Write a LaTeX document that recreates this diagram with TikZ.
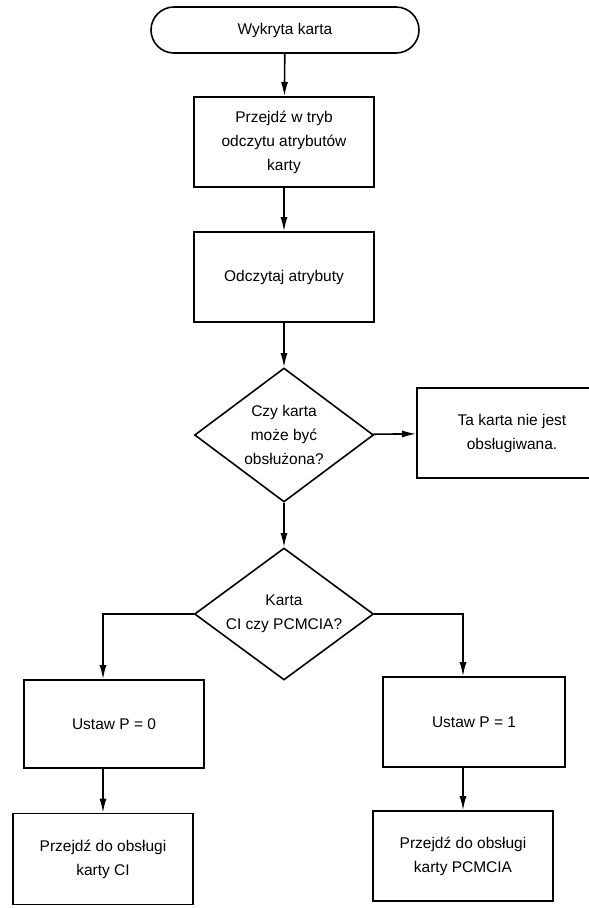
\documentclass[tikz,border=0pt]{standalone}
\usepackage{fontspec}
\setmainfont{Liberation Sans}
\usetikzlibrary{shapes.geometric, positioning, arrows.meta}

\begin{document}
\begin{tikzpicture}[x=1pt, y=-1pt, line width=1.6pt, >={Latex[length=14pt,width=7pt]},
	font=\fontsize{15.5}{24}\selectfont,
	box/.style={draw, rectangle, align=center, inner sep=0pt, minimum width=180pt, minimum height=90pt},
	term/.style={draw, rectangle, rounded corners=23pt, minimum width=268pt, minimum height=46pt},
	decision/.style={draw, diamond, align=center, aspect=1.34, inner sep=0pt, minimum width=179pt, minimum height=134pt}]
	\useasboundingbox (0,0) rectangle (589,908);

	\node[term]                  (st)  at (285,30)   {Wykryta karta};
	\node[box]                   (k1)  at (284,142)  {Przejdź w tryb\\odczytu atrybutów\\karty};
	\node[box]                   (k2)  at (284,277)  {Odczytaj atrybuty};
	\node[decision]              (d1)  at (284,435)  {Czy karta\\może być\\obsłużona?};
	\node[box, minimum width=190pt] (nie) at (512,433) {Ta karta nie jest\\obsługiwana.};
	\node[decision, minimum height=132pt] (d2) at (284,614) {Karta\\CI czy PCMCIA?};
	\node[box, minimum height=88pt] (p0) at (114,724) {Ustaw P = 0};
	\node[box, minimum width=182pt] (p1) at (474,722) {Ustaw P = 1};
	\node[box, minimum height=91pt] (ci)  at (103,859) {Przejdź do obsługi\\karty CI};
	\node[box]                   (pc)  at (463,856)  {Przejdź do obsługi\\karty PCMCIA};

	\path[->]
			(st) edge (k1)
			(k1) edge (k2)
			(k2) edge (d1)
			(d1) edge (d2)
			(d1) edge (nie);
	\draw[->] (d2.west) -| (p0.north -| ci.north);
	\draw[->] (d2.east) -| (p1.north -| pc.north);
	\draw[->] (p0.south -| ci.north) -- (ci);
	\draw[->] (p1.south -| pc.north) -- (pc);
\end{tikzpicture}
\end{document}
